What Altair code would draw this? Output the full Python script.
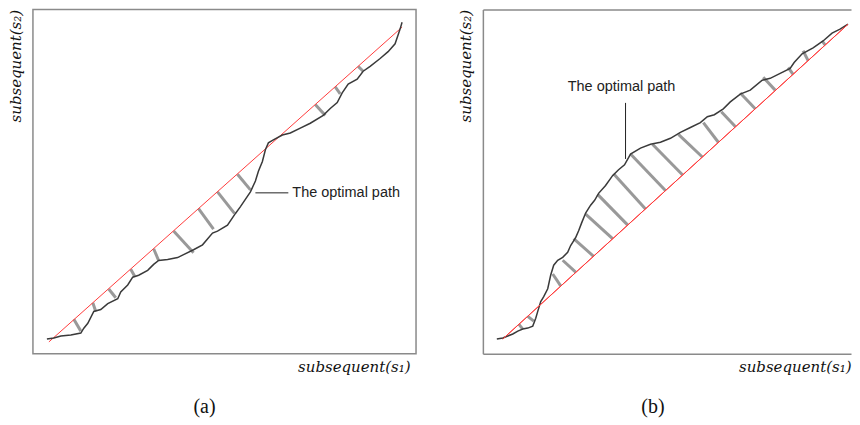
import altair as alt
import pandas as pd

# ---------------- panel (a) ----------------
a_path_s1 = [14, 21, 28, 38, 48, 51, 55, 61, 68, 75, 85, 88, 95, 100, 106, 115, 121, 126, 135, 145,
             151, 161, 170, 180, 185, 195, 203, 208, 218, 223, 226, 230, 233, 236, 241, 250, 258, 268,
             278, 291, 298, 305, 310, 316, 325, 331, 338, 348, 356, 363, 366, 368, 370]
a_path_s2 = [15, 16, 18, 19, 21, 26, 31, 43, 45, 51, 56, 63, 70, 78, 80, 85, 91, 95, 96, 98,
             101, 106, 111, 123, 125, 131, 143, 150, 165, 176, 186, 196, 208, 215, 218, 223, 225, 230,
             235, 243, 250, 256, 266, 275, 280, 288, 293, 301, 308, 316, 325, 331, 338]
a_diag_s1 = [16, 370]
a_diag_s2 = [12, 333]
a_link_diag_s1 = [41, 60, 76, 98, 121, 141, 166, 185, 205, 283, 303, 326]
a_link_diag_s2 = [35, 52, 66, 86, 107, 125, 148, 165, 183, 254, 272, 293]
a_link_path_s1 = [48, 63, 83, 102, 126, 161, 181, 202, 218, 293, 308, 331]
a_link_path_s2 = [23, 43, 57, 79, 95, 103, 127, 143, 167, 243, 265, 288]
a_note_line_s1 = [223, 256]
a_note_line_s2 = [164, 164]
a_note_s1 = [260]
a_note_s2 = [164]

# ---------------- panel (b) ----------------
b_path_s1 = [14, 20, 25, 30, 35, 40, 45, 50, 53, 55, 58, 61, 65, 68, 71, 75, 80, 85, 88, 93,
             96, 99, 103, 108, 112, 116, 123, 130, 136, 142, 148, 158, 168, 178, 188, 198, 208, 218,
             225, 232, 241, 248, 258, 268, 280, 288, 298, 308, 312, 320, 331, 341, 350, 358, 366]
b_path_s2 = [15, 16, 18, 20, 23, 25, 26, 28, 36, 43, 53, 58, 66, 80, 90, 95, 98, 103, 110, 118,
             125, 133, 143, 151, 156, 163, 171, 181, 187, 192, 203, 209, 213, 215, 219, 225, 230, 235,
             241, 243, 249, 256, 264, 268, 278, 280, 285, 290, 296, 305, 311, 318, 326, 330, 335]
b_diag_s1 = [20, 366]
b_diag_s2 = [15, 335]
b_link_diag_s1 = [36, 45, 78, 93, 111, 130, 145, 163, 183, 200, 220, 236, 253, 273, 293, 311, 326, 343]
b_link_diag_s2 = [30, 38, 69, 83, 99, 117, 131, 147, 166, 182, 200, 215, 231, 249, 268, 284, 298, 314]
b_link_path_s1 = [40, 51, 70, 80, 91, 103, 115, 131, 148, 170, 196, 221, 239, 258, 281, 306, 321, 340]
b_link_path_s2 = [25, 33, 81, 95, 117, 142, 162, 183, 203, 213, 223, 235, 246, 265, 281, 291, 308, 318]
b_note_line_s1 = [143, 143]
b_note_line_s2 = [198, 255]
b_note_s1 = [139]
b_note_s2 = [271]

note_label = "The optimal path"
x_title = "subsequent(s\u2081)"
y_title = "subsequent(s\u2082)"
captions = ["(a)", "(b)"]

BOX = "#8a8a8a"
PATH = "#3a3a3a"
LINK = "#999999"
RED = "#ff3b3b"
PH = 345
TFONT = "DejaVu Serif"
TSIZE = 15


def axis_x(domain, title_x):
    return alt.Axis(title=x_title, labels=False, ticks=False, grid=False, domain=domain,
                    domainColor=BOX, domainWidth=1.5,
                    titleFont=TFONT, titleFontStyle="italic",
                    titleFontWeight="normal", titleFontSize=TSIZE, titleColor="#111111",
                    titleAlign="right", titleAnchor="end", titleX=title_x, titlePadding=6)


def axis_y(domain):
    return alt.Axis(title=y_title, labels=False, ticks=False, grid=False, domain=domain,
                    domainColor=BOX, domainWidth=1.5,
                    titleFont=TFONT, titleFontStyle="italic",
                    titleFontWeight="normal", titleFontSize=TSIZE, titleColor="#111111",
                    titleAnchor="end", titlePadding=9)


def build(path_s1, path_s2, diag_s1, diag_s2, ld1, ld2, lp1, lp2,
          nl1, nl2, n1, n2, note_align, xmax, ymax, width, title_x, domain, caption, cap_dx,
          top_axis):
    xs = alt.Scale(domain=[0, xmax], nice=False, zero=False)
    ys = alt.Scale(domain=[0, ymax], nice=False, zero=False)
    ax = axis_x(domain, title_x)
    ay = axis_y(domain)

    def X(f):
        return alt.X(f, type="quantitative", scale=xs, axis=ax)

    def Y(f):
        return alt.Y(f, type="quantitative", scale=ys, axis=ay)

    path_df = pd.DataFrame({"s1": path_s1, "s2": path_s2, "i": list(range(len(path_s1)))})
    diag_df = pd.DataFrame({"s1": diag_s1, "s2": diag_s2})
    link_df = pd.DataFrame({"d1": ld1, "d2": ld2, "p1": lp1, "p2": lp2})
    nline_df = pd.DataFrame({"s1": nl1, "s2": nl2})
    note_df = pd.DataFrame({"s1": n1, "s2": n2, "t": [note_label]})

    links = alt.Chart(link_df).mark_rule(color=LINK, strokeWidth=3).encode(
        x=X("d1"), y=Y("d2"), x2="p1", y2="p2")
    diag = alt.Chart(diag_df).mark_line(color=RED, strokeWidth=1).encode(x=X("s1"), y=Y("s2"))
    path = alt.Chart(path_df).mark_line(color=PATH, strokeWidth=1.5).encode(
        x=X("s1"), y=Y("s2"), order="i:Q")
    nline = alt.Chart(nline_df).mark_line(color="#222222", strokeWidth=1).encode(x=X("s1"), y=Y("s2"))
    note = alt.Chart(note_df).mark_text(align=note_align, baseline="middle", font="Liberation Sans",
                                         fontSize=14.5, color="#222222").encode(
        x=X("s1"), y=Y("s2"), text="t:N")

    inner = alt.layer(links, diag, path, nline, note)
    if top_axis:
        top = alt.Chart(diag_df).mark_line(color=RED, strokeWidth=1).encode(
            x=alt.X("s1", type="quantitative", scale=xs,
                    axis=alt.Axis(orient="top", title="", labels=False, ticks=False, grid=False,
                                  domain=True, domainColor=BOX, domainWidth=1.5)),
            y=Y("s2"))
        chart = alt.layer(inner, top).resolve_axis(x="independent")
    else:
        chart = inner
    return chart.properties(
        width=width, height=PH,
        view=alt.ViewBackground(stroke=BOX if not domain else "transparent", strokeWidth=1.5),
        title=alt.TitleParams(caption, orient="bottom", anchor="middle", frame="group",
                              font="Liberation Serif", fontSize=20, fontWeight="normal",
                              color="#111111", dx=cap_dx, offset=22))


pa = build(a_path_s1, a_path_s2, a_diag_s1, a_diag_s2, a_link_diag_s1, a_link_diag_s2,
           a_link_path_s1, a_link_path_s2, a_note_line_s1, a_note_line_s2, a_note_s1, a_note_s2,
           "left", 384, 351, 384, 378, False, captions[0], -20, False)
pb = build(b_path_s1, b_path_s2, b_diag_s1, b_diag_s2, b_link_diag_s1, b_link_diag_s2,
           b_link_path_s1, b_link_path_s2, b_note_line_s1, b_note_line_s2, b_note_s1, b_note_s2,
           "center", 369, 350, 369, 369, True, captions[1], -14, True)

chart = alt.hconcat(pa, pb, spacing=41).properties(
    padding={"left": 0, "top": 0, "right": 0, "bottom": 0}
).configure_view(stroke="transparent")

chart.save("out.html", embed_options={"renderer": "svg", "actions": False})
